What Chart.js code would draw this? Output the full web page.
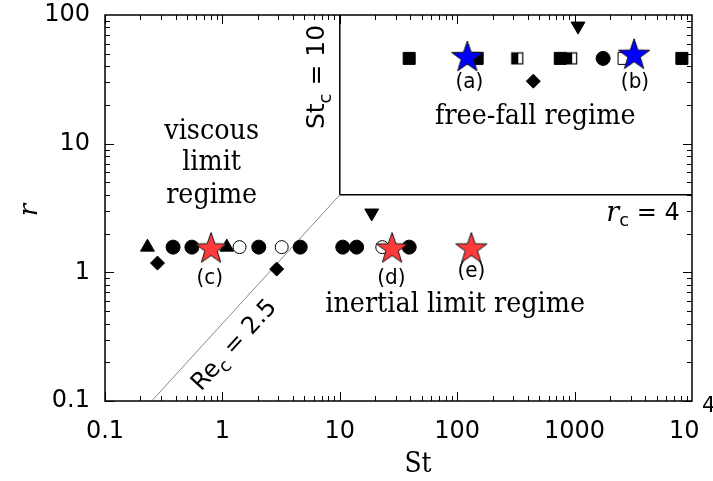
<!DOCTYPE html>
<html>
<head>
<meta charset="utf-8">
<script src="https://cdn.jsdelivr.net/npm/chart.js@4.4.0/dist/chart.umd.min.js"></script>
<style>
  html, body { margin: 0; padding: 0; background: #fff; }
</style>
</head>
<body>
<canvas id="regime" width="713" height="481"></canvas>
<script>
// axis ticks (the 10^4 label gets its exponent drawn by the plugin)
const xTicks = [0.1, 1, 10, 100, 1000, 10000];
const xTickLabels = ['0.1', '1', '10', '100', '1000', '10  '];
const yTicks = [0.1, 1, 10, 100];
const yTickLabels = ['0.1', '1', '10', '100'];

// points as [St, r]
const filledCircle = [[0.38, 1.57], [0.55, 1.57], [2.04, 1.57], [4.6, 1.57], [10.6, 1.57], [13.9, 1.57], [39, 1.57], [1750, 46]];
const openCircle = [[1.4, 1.57], [3.2, 1.57], [23, 1.57]];
const upTriangle = [[0.23, 1.57], [1.09, 1.57]];
const downTriangle = [[18.7, 2.89], [1070, 82]];
const diamond = [[0.28, 1.18], [2.9, 1.06], [445, 30.6]];
const filledSquare = [[39, 46], [148, 46], [755, 46], [8200, 46]];
const halfSquare = [[325, 46], [935, 46]];
const openSquare = [[2640, 46]];
const redStars = [[0.8, 1.56], [27.9, 1.56], [132, 1.56]];
const blueStars = [[122, 48], [3210, 50]];

// regime boundaries
const reLine = [[0.25, 0.1], [10, 4]];
const stLine = [[10, 4], [10, 100]];
const rLine = [[10, 4], [10000, 4]];

const pts = arr => arr.map(([x, y]) => ({x, y}));

function starImage(fill) {
    const c = document.createElement('canvas');
    c.width = 36; c.height = 36;
    const g = c.getContext('2d');
    g.beginPath();
    for (let i = 0; i < 10; i++) {
        const rad = i % 2 ? 6.5 : 16.5;
        const a = -Math.PI / 2 + i * Math.PI / 5;
        g.lineTo(18 + rad * Math.cos(a), 19.5 + rad * Math.sin(a));
    }
    g.closePath();
    g.fillStyle = fill;
    g.fill();
    g.strokeStyle = '#111';
    g.lineWidth = 1;
    g.stroke();
    return c;
}

function halfSquareImage() {
    const c = document.createElement('canvas');
    c.width = 14; c.height = 14;
    const g = c.getContext('2d');
    g.fillStyle = '#fff';
    g.fillRect(1, 1, 12, 12);
    g.fillStyle = '#000';
    g.fillRect(1, 1, 7, 12);
    g.strokeStyle = '#000';
    g.lineWidth = 1.2;
    g.strokeRect(1.5, 1.5, 11, 11);
    return c;
}

// centred multi-font text, baseline 'middle'
function rich(ctx, parts, x, y, angle) {
    ctx.save();
    ctx.translate(x, y);
    ctx.rotate(angle || 0);
    ctx.textBaseline = 'middle';
    ctx.textAlign = 'left';
    let w = 0;
    parts.forEach(p => { ctx.font = p.font; w += ctx.measureText(p.text).width; });
    let cx = -w / 2;
    parts.forEach(p => {
        ctx.font = p.font;
        ctx.fillText(p.text, cx, p.dy || 0);
        cx += ctx.measureText(p.text).width;
    });
    ctx.restore();
}

// vertically stretched serif text, to match the tall face of the original
function tallText(ctx, text, x, y, stretch) {
    ctx.save();
    ctx.translate(x, y);
    ctx.scale(1, stretch);
    ctx.textAlign = 'center';
    ctx.textBaseline = 'middle';
    ctx.fillText(text, 0, 0);
    ctx.restore();
}

const SERIF = '25.5px "DejaVu Serif"';
const SANS = '24px "DejaVu Sans"';
const SUB = '18px "DejaVu Sans"';

const notes = [
    {t: 'viscous', x: 0.81, y: 12.3},
    {t: 'limit', x: 0.81, y: 7.06},
    {t: 'regime', x: 0.81, y: 3.92},
    {t: 'free-fall regime', x: 462, y: 16.1},
    {t: 'inertial limit regime', x: 96, y: 0.557}
];
const tags = [
    {t: '(a)', x: 127, y: 30},
    {t: '(b)', x: 3270, y: 30},
    {t: '(c)', x: 0.78, y: 0.9},
    {t: '(d)', x: 27.5, y: 0.9},
    {t: '(e)', x: 132, y: 1.02}
];

const decor = {
    id: 'decor',
    afterDraw(chart) {
        const {ctx, chartArea: a, scales: {x, y}} = chart;
        ctx.save();
        ctx.strokeStyle = '#000';
        ctx.lineWidth = 1.5;
        ctx.strokeRect(a.left, a.top, a.right - a.left, a.bottom - a.top);

        // inward ticks on all four sides
        ctx.lineWidth = 1;
        ctx.beginPath();
        for (let d = 0.1; d < 9999; d *= 10) {
            for (let m = 1; m < 10; m++) {
                const px = Math.round(x.getPixelForValue(d * m)) + 0.5;
                const len = m === 1 ? 9 : 5;
                ctx.moveTo(px, a.bottom); ctx.lineTo(px, a.bottom - len);
                ctx.moveTo(px, a.top); ctx.lineTo(px, a.top + len);
            }
        }
        for (let d = 0.1; d < 99; d *= 10) {
            for (let m = 1; m < 10; m++) {
                const py = Math.round(y.getPixelForValue(d * m)) + 0.5;
                const len = m === 1 ? 9 : 5;
                ctx.moveTo(a.left, py); ctx.lineTo(a.left + len, py);
                ctx.moveTo(a.right, py); ctx.lineTo(a.right - len, py);
            }
        }
        ctx.stroke();

        ctx.fillStyle = '#000';
        ctx.font = SERIF;
        notes.forEach(n => tallText(ctx, n.t, x.getPixelForValue(n.x), y.getPixelForValue(n.y), 1.1));
        ctx.font = '20px "DejaVu Sans"';
        tags.forEach(n => tallText(ctx, n.t, x.getPixelForValue(n.x), y.getPixelForValue(n.y), 1.05));

        // axis titles
        ctx.font = '25px "DejaVu Serif"';
        tallText(ctx, 'St', 418, 465, 1.15);
        ctx.save();
        ctx.translate(30, 210);
        ctx.rotate(-Math.PI / 2);
        ctx.font = 'italic 26px "DejaVu Serif"';
        ctx.textAlign = 'center';
        ctx.textBaseline = 'middle';
        ctx.fillText('r', 0, 0);
        ctx.restore();

        // exponent of the 10^4 tick label
        ctx.font = '21px "DejaVu Sans"';
        ctx.textAlign = 'left';
        ctx.textBaseline = 'middle';
        ctx.fillText('4', x.getPixelForValue(10000) + 10, a.bottom + 6);

        // boundary labels
        rich(ctx, [
            {text: 'St', font: '25px "DejaVu Sans"'},
            {text: 'c', font: SUB, dy: 8},
            {text: ' = 10', font: '25px "DejaVu Sans"'}
        ], x.getPixelForValue(6.5), y.getPixelForValue(33), -Math.PI / 2);
        rich(ctx, [
            {text: 'r', font: 'italic 27px "DejaVu Serif"'},
            {text: 'c', font: SUB, dy: 7},
            {text: ' = 4', font: SANS}
        ], x.getPixelForValue(3830), y.getPixelForValue(2.83), 0);
        rich(ctx, [
            {text: 'Re', font: SANS},
            {text: 'c', font: SUB, dy: 8},
            {text: ' = 2.5', font: SANS}
        ], x.getPixelForValue(1.27), y.getPixelForValue(0.27), -47.7 * Math.PI / 180);
        ctx.restore();
    }
};

const black = '#000';
const lineSet = (data, color, width) => ({
    data: pts(data), showLine: true, pointRadius: 0,
    borderColor: color, borderWidth: width, order: 20
});

new Chart(document.getElementById('regime'), {
    type: 'scatter',
    data: {
        datasets: [
            lineSet(reLine, '#888', 1),
            lineSet(stLine, black, 1.5),
            lineSet(rLine, black, 1.5),
            {data: pts(filledCircle), pointStyle: 'circle', pointRadius: 7, backgroundColor: black, borderColor: black, order: 5},
            {data: pts(openCircle), pointStyle: 'circle', pointRadius: 6.5, backgroundColor: '#fff', borderColor: black, borderWidth: 1, order: 5},
            {data: pts(upTriangle), pointStyle: 'triangle', pointRadius: 8, backgroundColor: black, borderColor: black, order: 5},
            {data: pts(downTriangle), pointStyle: 'triangle', rotation: 180, pointRadius: 8, backgroundColor: black, borderColor: black, order: 5},
            {data: pts(diamond), pointStyle: 'rectRot', pointRadius: 7, backgroundColor: black, borderColor: black, order: 5},
            {data: pts(filledSquare), pointStyle: 'rect', pointRadius: 8.5, backgroundColor: black, borderColor: black, order: 5},
            {data: pts(halfSquare), pointStyle: halfSquareImage(), order: 5},
            {data: pts(openSquare), pointStyle: 'rect', pointRadius: 8.5, backgroundColor: '#fff', borderColor: black, borderWidth: 1, order: 5},
            {data: pts(redStars), pointStyle: starImage('#ff3a3a'), order: 0},
            {data: pts(blueStars), pointStyle: starImage('#0000ff'), order: 0}
        ]
    },
    options: {
        responsive: false,
        animation: false,
        events: [],
        layout: {padding: {top: 15, right: 21, left: 0, bottom: 0}},
        plugins: {legend: {display: false}, tooltip: {enabled: false}},
        scales: {
            x: {
                type: 'logarithmic', min: 0.1, max: 10000,
                grid: {display: false, drawTicks: false},
                border: {display: false},
                afterBuildTicks: s => { s.ticks = xTicks.map(v => ({value: v})); },
                afterFit: s => { s.height = 80; s.paddingLeft = 0; s.paddingRight = 0; },
                ticks: {
                    autoSkip: false, maxRotation: 0, padding: 16, color: black,
                    font: {family: 'DejaVu Sans', size: 24},
                    callback: (v, i) => xTickLabels[i]
                }
            },
            y: {
                type: 'logarithmic', min: 0.1, max: 100,
                grid: {display: false, drawTicks: false},
                border: {display: false},
                afterBuildTicks: s => { s.ticks = yTicks.map(v => ({value: v})); },
                afterFit: s => { s.width = 105; s.paddingTop = 0; s.paddingBottom = 0; },
                ticks: {
                    autoSkip: false, padding: 15, color: black,
                    font: {family: 'DejaVu Sans', size: 24},
                    callback: (v, i) => yTickLabels[i]
                }
            }
        }
    },
    plugins: [decor]
});
</script>
</body>
</html>
